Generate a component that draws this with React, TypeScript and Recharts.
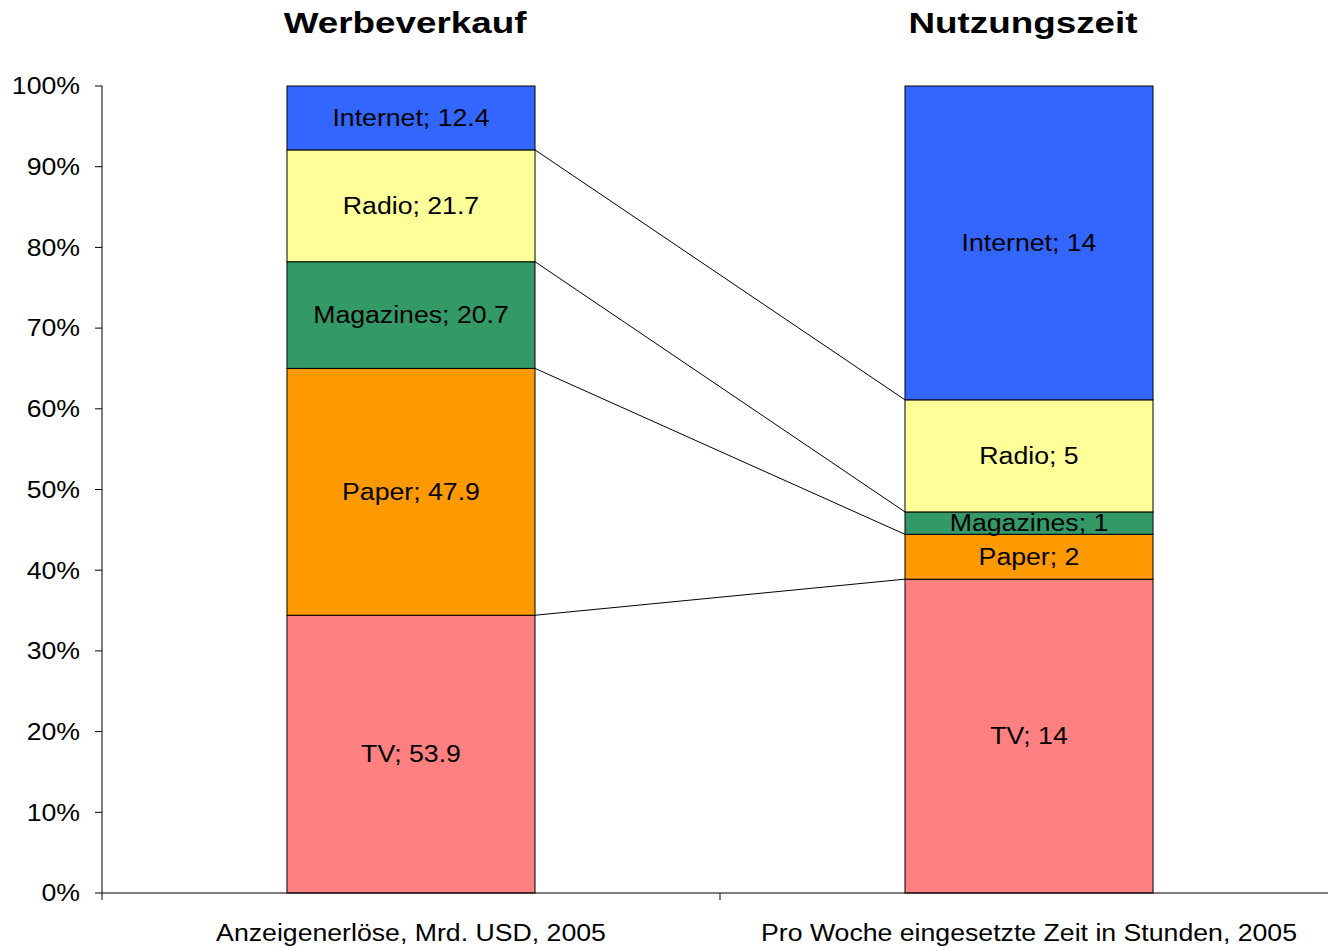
import React from "react";
import { BarChart, Bar, XAxis, YAxis, LabelList } from "recharts";

const categories = ["Anzeigenerlöse, Mrd. USD, 2005", "Pro Woche eingesetzte Zeit in Stunden, 2005"];
const titles = ["Werbeverkauf", "Nutzungszeit"];
const seriesNames = ["TV", "Paper", "Magazines", "Radio", "Internet"];
const tvValues = [53.9, 14];
const paperValues = [47.9, 2];
const magazinesValues = [20.7, 1];
const radioValues = [21.7, 5];
const internetValues = [12.4, 14];
const yTicks = [0, 0.1, 0.2, 0.3, 0.4, 0.5, 0.6, 0.7, 0.8, 0.9, 1];

const seriesValues: Record<string, number[]> = {
  TV: tvValues,
  Paper: paperValues,
  Magazines: magazinesValues,
  Radio: radioValues,
  Internet: internetValues,
};
const colors: Record<string, string> = {
  TV: "#FF8080",
  Paper: "#FF9900",
  Magazines: "#339966",
  Radio: "#FFFF99",
  Internet: "#3366FF",
};
const withSeriesLine: Record<string, boolean> = {
  TV: true,
  Paper: true,
  Magazines: true,
  Radio: true,
  Internet: false,
};

const data = categories.map((c, i) => {
  const row: any = { category: c, title: titles[i] };
  seriesNames.forEach((s) => (row[s] = seriesValues[s][i]));
  return row;
});

const FONT = "'Liberation Sans', Arial, sans-serif";
const SX = 1.16;
const store: Record<string, { x: number; y: number }> = {};

const Wide = ({ x, y, anchor, size, bold, scale, baseline, children }: any) => (
  <text
    transform={`translate(${x},${y}) scale(${scale},1)`}
    x={0}
    y={0}
    textAnchor={anchor}
    dominantBaseline={baseline}
    fontFamily={FONT}
    fontSize={size}
    fontWeight={bold ? "bold" : "normal"}
    fill="#000"
  >
    {children}
  </text>
);

const makeShape = (name: string) => (props: any) => {
  const { x, y, width, height, index, fill } = props;
  if (index === 0) store[name] = { x: x + width, y };
  const prev = store[name];
  return (
    <g>
      <rect x={x} y={y} width={width} height={height} fill={fill} stroke="#000" strokeWidth={1} />
      {index === 1 && withSeriesLine[name] && prev ? (
        <line x1={prev.x} y1={prev.y} x2={x} y2={y} stroke="#000" strokeWidth={1} />
      ) : null}
    </g>
  );
};

const makeLabel = (name: string) => (props: any) => {
  const vb = props.viewBox || props;
  const x = vb.x ?? props.x;
  const y = vb.y ?? props.y;
  const width = vb.width ?? props.width;
  const height = vb.height ?? props.height;
  const v = seriesValues[name][props.index];
  return (
    <Wide x={x + width / 2} y={y + height / 2} anchor="middle" baseline="central" size={23} scale={SX}>
      {`${name}; ${v}`}
    </Wide>
  );
};

const TitleTick = (props: any) => {
  const { x, payload } = props;
  return (
    <Wide x={x - 6} y={33} anchor="middle" size={29} bold scale={1.27}>
      {payload.value}
    </Wide>
  );
};

const CatTick = (props: any) => {
  const { x, y, payload } = props;
  const off = payload.offset || 0;
  return (
    <g>
      <line x1={x - off} y1={y} x2={x - off} y2={y + 7} stroke="#000" strokeWidth={1} />
      <Wide x={x} y={y + 48} anchor="middle" size={23} scale={SX}>
        {payload.value}
      </Wide>
    </g>
  );
};

const YTick = (props: any) => {
  const { x, y, payload } = props;
  return (
    <Wide x={x} y={y} anchor="end" baseline="central" size={23} scale={SX}>
      {`${Math.round(payload.value * 100)}%`}
    </Wide>
  );
};

export default function App() {
  return (
    <div style={{ position: "absolute", left: 0, top: 0, width: 1328, height: 948, overflow: "hidden", background: "#fff" }}>
      <BarChart
        width={1342}
        height={948}
        data={data}
        stackOffset="expand"
        margin={{ top: 26, right: 4, bottom: 0, left: 0 }}
      >
        <XAxis
          xAxisId="top"
          orientation="top"
          dataKey="title"
          height={60}
          axisLine={false}
          tickLine={false}
          tick={<TitleTick />}
          interval={0}
        />
        <XAxis
          dataKey="category"
          height={55}
          axisLine={{ stroke: "#000" }}
          tickLine={false}
          tickSize={0}
          tickMargin={0}
          tick={<CatTick />}
          interval={0}
        />
        <YAxis
          width={102}
          domain={[0, 1]}
          ticks={yTicks}
          interval={0}
          tickSize={7}
          tickMargin={15}
          axisLine={{ stroke: "#000" }}
          tickLine={{ stroke: "#000" }}
          tick={<YTick />}
        />
        {seriesNames.map((name) => (
          <Bar
            key={name}
            dataKey={name}
            stackId="a"
            fill={colors[name]}
            barSize={248}
            isAnimationActive={false}
            shape={makeShape(name)}
          >
            <LabelList content={makeLabel(name)} />
          </Bar>
        ))}
      </BarChart>
    </div>
  );
}
